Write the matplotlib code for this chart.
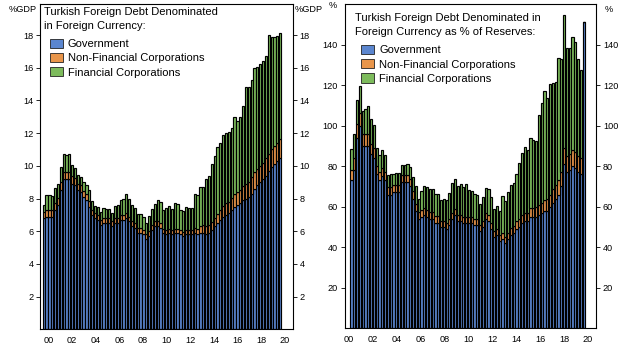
import numpy as np
import matplotlib
matplotlib.use('Agg')
import matplotlib.pyplot as plt
from matplotlib.patches import Patch

plt.rcParams['font.family'] = ['Liberation Sans', 'DejaVu Sans']

# x labels (every two years)
year_labels = ['00', '02', '04', '06', '08', '10', '12', '14', '16', '18', '20']
series_names = ['Government', 'Non-Financial Corporations', 'Financial Corporations']

# quarterly, % of GDP
gdp_gov = [6.8, 6.9, 6.9, 6.9, 7.3, 7.6, 8.5, 9.2, 9.2, 9.2,
           8.9, 8.8, 8.5, 8.4, 8.1, 7.9, 7.5, 7.0, 6.8, 6.7,
           6.4, 6.5, 6.5, 6.5, 6.3, 6.5, 6.5, 6.7, 6.7, 6.8,
           6.6, 6.3, 6.2, 5.9, 5.9, 5.8, 5.5, 5.7, 6.1, 6.3,
           6.3, 6.2, 5.9, 5.8, 5.9, 5.8, 5.9, 5.9, 5.8, 5.7,
           5.8, 5.8, 5.8, 5.9, 5.8, 5.9, 5.9, 5.8, 5.9, 6.1,
           6.3, 6.5, 6.7, 6.9, 7.0, 7.1, 7.3, 7.5, 7.6, 7.7,
           7.9, 8.0, 8.1, 8.3, 8.6, 8.8, 9.0, 9.2, 9.4, 9.7,
           9.9, 10.1, 10.3, 10.5]
gdp_nfc = [0.4, 0.4, 0.4, 0.4, 0.4, 0.45, 0.5, 0.45, 0.45, 0.45,
           0.45, 0.45, 0.4, 0.4, 0.35, 0.35, 0.35, 0.3, 0.3, 0.3,
           0.3, 0.3, 0.3, 0.3, 0.3, 0.3, 0.3, 0.3, 0.3, 0.3,
           0.3, 0.3, 0.3, 0.3, 0.3, 0.3, 0.3, 0.3, 0.3, 0.3,
           0.3, 0.3, 0.25, 0.25, 0.25, 0.25, 0.25, 0.25, 0.25, 0.25,
           0.25, 0.25, 0.25, 0.3, 0.35, 0.4, 0.45, 0.5, 0.5, 0.45,
           0.5, 0.55, 0.6, 0.65, 0.7, 0.7, 0.75, 0.8, 0.8, 0.85,
           0.85, 0.9, 0.9, 1.0, 1.0, 1.0, 1.0, 1.0, 1.05, 1.05,
           1.1, 1.1, 1.1, 1.15]
gdp_fin = [0.38, 0.9, 0.93, 0.86, 0.95, 0.86, 0.93, 1.1, 1.0, 1.06,
           0.73, 0.62, 0.56, 0.52, 0.56, 0.56, 0.65, 0.55, 0.42, 0.48,
           0.47, 0.64, 0.58, 0.58, 0.51, 0.72, 0.78, 0.89, 0.99, 1.2,
           1.05, 0.98, 0.94, 0.83, 0.87, 0.77, 0.7, 0.91, 0.98, 1.08,
           1.33, 1.29, 1.13, 1.4, 1.37, 1.33, 1.57, 1.5, 1.27, 1.29,
           1.43, 1.39, 1.39, 2.06, 2.05, 2.41, 2.36, 2.92, 2.96, 3.55,
           3.81, 4.11, 4.1, 4.33, 4.28, 4.24, 4.24, 4.66, 4.36, 4.41,
           4.91, 5.94, 5.84, 5.95, 6.37, 6.27, 6.21, 6.24, 6.27, 7.26,
           6.87, 6.67, 6.55, 6.5]

# quarterly, % of reserves
res_gov = [73, 78, 94, 100, 90, 90, 90, 86, 84, 76,
           73, 75, 73, 66, 66, 67, 67, 67, 72, 72,
           72, 70, 64, 58, 54, 55, 56, 55, 54, 54,
           52, 52, 50, 50, 49, 51, 54, 56, 53, 53,
           52, 52, 52, 52, 51, 51, 48, 50, 54, 53,
           49, 45, 46, 43, 44, 42, 44, 46, 47, 49,
           50, 52, 53, 53, 55, 55, 55, 56, 57, 58,
           58, 60, 62, 64, 66, 70, 81, 77, 78, 80,
           79, 77, 76, 151.2]
res_nfc = [5, 6, 7, 6, 6, 6, 6, 5, 5, 4,
           4, 4, 4, 3.5, 3.5, 3.5, 3.5, 3.5, 3.5, 3.5,
           3.5, 3.5, 3.5, 3.5, 3.5, 3.5, 3.5, 3.5, 3.5, 3.5,
           3.5, 3.5, 3, 3, 3, 3, 3, 3, 3, 3,
           3, 3, 3, 3, 3, 3, 3, 3, 3, 3,
           3, 3, 3, 3, 3, 3, 3, 3.5, 3.5, 4,
           4, 4, 4, 4, 4.5, 4.5, 5, 5, 5, 5.5,
           6, 6, 6.5, 6.5, 7, 7, 8, 8, 8, 8,
           8, 8, 8, 0]
res_fin = [10.6, 12, 11.8, 13.6, 11.2, 12.4, 13.5, 12.4, 11.1, 9.1,
           8.3, 8.8, 8.3, 5.9, 6.4, 5.7, 6.1, 6.1, 5.2, 5.0,
           5.4, 6.0, 7.1, 8.5, 6.4, 9.2, 10.7, 11.1, 11.3, 11.3,
           10.9, 10.6, 10.1, 10.9, 11.1, 12.7, 14.6, 14.8, 14.0, 15.3,
           14.6, 16.0, 13.4, 12.7, 12.1, 12.0, 10.5, 11.7, 12.2, 12.5,
           12.7, 11.0, 11.1, 11.8, 18.1, 17.7, 20.2, 21.0, 21.1, 22.9,
           27.7, 30.7, 32.4, 30.8, 34.4, 33.3, 32.4, 44.1, 49.2, 53.6,
           49.6, 54.7, 52.6, 51.0, 60.4, 56.0, 65.5, 53.5, 52.5, 55.5,
           54.3, 48.0, 43.3, 0]

colors = ['#5B86CF', '#E8954A', '#7DBB5C']

W, H = 626, 350
fig = plt.figure(figsize=(W / 100, H / 100), dpi=100)


def px_axes(x0, x1, y0, y1):
    return fig.add_axes([x0 / W, 1 - y1 / H, (x1 - x0) / W, (y1 - y0) / H])


def draw_panel(ax, gov, nfc, fin, ylim, yticks, xlim, xticks):
    x = np.arange(len(gov))
    gov = np.array(gov)
    nfc = np.array(nfc)
    fin = np.array(fin)
    kw = dict(width=0.78, edgecolor='black', linewidth=0.85)
    ax.bar(x, gov, color=colors[0], **kw)
    ax.bar(x, nfc, bottom=gov, color=colors[1], **kw)
    ax.bar(x, fin, bottom=gov + nfc, color=colors[2], **kw)
    ax.set_xlim(*xlim)
    ax.set_ylim(*ylim)
    ax.set_yticks(yticks)
    ax.set_xticks(xticks)
    ax.set_xticklabels(year_labels)
    ax.tick_params(axis='y', which='both', left=True, right=True,
                   labelleft=True, labelright=True, length=3, width=0.6,
                   labelsize=6.6, pad=2, direction='out')
    ax.tick_params(axis='x', length=0, labelsize=6.6, pad=5)
    for s in ax.spines.values():
        s.set_linewidth(0.8)
    handles = [Patch(facecolor=c, edgecolor='#222222', linewidth=0.6) for c in colors]
    return handles


ax1 = px_axes(40.5, 292.7, 4, 329.3)
h = draw_panel(ax1, gdp_gov, gdp_nfc, gdp_fin, (0, 19.9), np.arange(2, 19, 2),
               (-1.12, 87.4), np.linspace(1.61, 84.67, 11))
ax1.legend(h, series_names, loc='upper left', bbox_to_anchor=(0.036, 0.893),
           frameon=False, fontsize=8, handlelength=1.17, handleheight=0.9,
           handletextpad=0.48, labelspacing=0.34, borderpad=0, borderaxespad=0)

ax2 = px_axes(344.5, 596, 4, 328.3)
h = draw_panel(ax2, res_gov, res_nfc, res_fin, (0, 160), np.arange(20, 141, 20),
               (-2.5, 87.4), np.linspace(-0.9, 84.5, 11))
ax2.legend(h, series_names, loc='upper left', bbox_to_anchor=(0.066, 0.874),
           frameon=False, fontsize=8, handlelength=1.17, handleheight=0.9,
           handletextpad=0.48, labelspacing=0.34, borderpad=0, borderaxespad=0)


def ftext(x, y, s, **kw):
    fig.text(x / W, 1 - y / H, s, **kw)


ftext(44, 7, 'Turkish Foreign Debt Denominated\nin Foreign Currency:',
      fontsize=8, va='top', ha='left', linespacing=1.55)
ftext(355, 13, 'Turkish Foreign Debt Denominated in\nForeign Currency as % of Reserves:',
      fontsize=8, va='top', ha='left', linespacing=1.55)

# unit labels at the top of the value axes
ftext(36.5, 9.5, '%GDP', fontsize=6.6, va='center', ha='right')
ftext(295, 9.5, '%GDP', fontsize=6.6, va='center', ha='left')
ftext(337, 6, '%', fontsize=6.6, va='center', ha='right')
ftext(605, 9.5, '%', fontsize=6.6, va='center', ha='left')

fig.savefig('out.png', dpi=100)
